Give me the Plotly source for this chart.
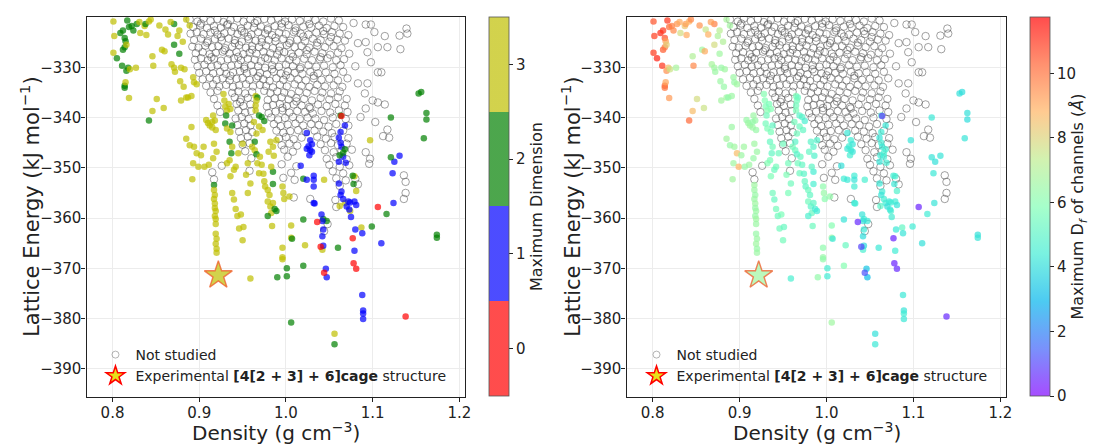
import plotly.graph_objects as go

# ---------------- data ----------------
# grey "Not studied" structures
gray_x = [
    0.889, 0.898, 0.905, 0.913, 0.921, 0.928, 0.936, 0.944, 0.951, 0.959, 0.967, 0.975, 0.983, 0.991, 0.999, 1.007, 1.016, 1.025, 1.034, 1.043, 1.052, 1.061, 1.078, 1.098,
    0.893, 0.901, 0.909, 0.917, 0.925, 0.932, 0.940, 0.948, 0.956, 0.963, 0.971, 0.979, 0.987, 0.995, 1.003, 1.011, 1.020, 1.029, 1.038, 1.047, 1.056, 1.066, 1.092, 1.139,
    0.890, 0.897, 0.905, 0.913, 0.921, 0.929, 0.937, 0.944, 0.952, 0.960, 0.968, 0.976, 0.984, 0.992, 1.000, 1.009, 1.017, 1.026, 1.035, 1.044, 1.053, 1.062, 1.072, 1.102, 1.114, 1.131, 1.140,
    0.894, 0.902, 0.910, 0.918, 0.926, 0.934, 0.941, 0.949, 0.957, 0.965, 0.972, 0.980, 0.988, 0.997, 1.005, 1.013, 1.022, 1.031, 1.040, 1.050, 1.059, 1.068, 1.083, 1.092,
    0.892, 0.899, 0.907, 0.915, 0.922, 0.930, 0.938, 0.946, 0.954, 0.961, 0.969, 0.977, 0.985, 0.993, 1.001, 1.010, 1.018, 1.027, 1.036, 1.045, 1.055, 1.064, 1.106, 1.117, 1.132,
    0.896, 0.904, 0.912, 0.919, 0.927, 0.935, 0.943, 0.951, 0.958, 0.966, 0.974, 0.982, 0.990, 0.998, 1.006, 1.015, 1.024, 1.033, 1.042, 1.051, 1.060, 1.073, 1.094,
    0.895, 0.902, 0.910, 0.917, 0.925, 0.933, 0.940, 0.948, 0.956, 0.964, 0.971, 0.979, 0.987, 0.995, 1.004, 1.012, 1.021, 1.030, 1.039, 1.048, 1.058, 1.067, 1.098,
    0.898, 0.906, 0.914, 0.921, 0.929, 0.937, 0.945, 0.952, 0.960, 0.968, 0.976, 0.984, 0.992, 1.000, 1.008, 1.017, 1.026, 1.035, 1.044, 1.054, 1.063, 1.080,
    0.900, 0.908, 0.916, 0.924, 0.931, 0.939, 0.947, 0.955, 0.962, 0.970, 0.978, 0.986, 0.994, 1.002, 1.010, 1.019, 1.028, 1.037, 1.046, 1.056, 1.066, 1.106, 1.110,
    0.904, 0.912, 0.920, 0.927, 0.935, 0.943, 0.950, 0.958, 0.966, 0.974, 0.981, 0.989, 0.997, 1.005, 1.014, 1.023, 1.032, 1.041, 1.050, 1.060, 1.071,
    0.908, 0.916, 0.923, 0.931, 0.939, 0.946, 0.954, 0.962, 0.970, 0.977, 0.985, 0.993, 1.001, 1.010, 1.018, 1.027, 1.036, 1.045, 1.055, 1.065, 1.083, 1.094,
    0.913, 0.921, 0.938, 0.945, 0.953, 0.961, 0.975, 0.982, 0.990, 0.998, 1.006, 1.015, 1.024, 1.033, 1.042, 1.052, 1.062, 1.091,
    0.917, 0.941, 0.948, 0.956, 0.979, 0.987, 0.995, 1.003, 1.012, 1.021, 1.030, 1.040, 1.050, 1.060, 1.070, 1.100, 1.106,
    0.921, 0.943, 0.951, 0.959, 0.978, 0.985, 0.993, 1.001, 1.009, 1.018, 1.027, 1.037, 1.047, 1.057, 1.068, 1.114,
    0.924, 0.945, 0.953, 0.960, 0.980, 0.988, 0.996, 1.004, 1.013, 1.022, 1.031, 1.041, 1.051, 1.061, 1.071, 1.092,
    0.942, 0.949, 0.957, 0.983, 0.991, 0.999, 1.008, 1.016, 1.025, 1.034, 1.044, 1.054, 1.069, 1.086,
    0.944, 0.952, 0.959, 0.986, 0.994, 1.002, 1.011, 1.020, 1.029, 1.038, 1.049, 1.058, 1.072, 1.103,
    0.946, 0.954, 0.961, 0.989, 0.997, 1.005, 1.014, 1.023, 1.033, 1.043, 1.053, 1.066, 1.117,
    0.948, 0.956, 0.992, 1.000, 1.009, 1.018, 1.036, 1.046, 1.056, 1.072, 1.112, 1.119,
    0.950, 0.958, 0.995, 1.004, 1.013, 1.040, 1.052, 1.060, 1.070,
    0.953, 0.998, 1.008, 1.045, 1.055, 1.064, 1.076, 1.097,
    0.960, 1.002, 1.047, 1.058, 1.070, 1.096, 1.092,
    0.926, 0.995, 1.012, 1.050, 1.062, 1.073,
    0.915, 0.958, 1.006, 1.054, 1.066, 1.136,
    0.917, 0.997, 1.010, 1.058, 1.069, 1.080, 1.138,
    1.062, 1.083, 1.009, 1.028, 1.057, 1.138, 1.136, 1.058, 1.048, 1.044,
    0.902, 0.918, 0.933, 0.949, 0.964, 0.979, 0.995, 1.011, 1.027, 1.043, 0.909, 0.925, 0.941, 0.956, 0.972, 0.988, 1.004, 1.020, 1.036, 1.052,
    0.914, 0.929, 0.945, 0.961, 0.976, 0.992, 1.008, 1.024, 1.040, 0.936, 0.952, 0.968, 0.984, 1.000, 1.016, 1.032, 0.947, 0.996, 1.012, 1.028,
]
gray_y = [
    -320.5, -320.9, -320.3, -320.8, -320.4, -321.0, -320.6, -320.3, -320.9, -320.5, -320.8, -320.4, -320.7, -320.3, -320.9, -320.5, -320.8, -320.4, -320.6, -320.9, -320.3, -320.7, -321.2, -321.5,
    -322.0, -321.7, -322.2, -321.8, -322.1, -321.6, -322.0, -322.3, -321.7, -322.1, -321.9, -322.3, -321.8, -322.0, -321.6, -322.2, -321.9, -322.1, -321.7, -322.2, -321.8, -322.0, -321.5, -322.3,
    -323.3, -323.0, -323.4, -323.1, -323.5, -323.2, -322.9, -323.4, -323.1, -323.5, -323.0, -323.3, -323.6, -323.1, -323.4, -323.0, -323.3, -323.5, -323.1, -323.4, -323.0, -323.3, -323.6, -323.0, -323.8, -323.7, -323.3,
    -324.6, -324.3, -324.8, -324.4, -324.7, -324.3, -324.6, -324.9, -324.4, -324.7, -324.3, -324.6, -324.8, -324.4, -324.7, -324.5, -324.8, -324.3, -324.6, -324.9, -324.5, -324.7, -325.2, -325.0,
    -325.9, -326.1, -325.7, -326.0, -325.8, -326.2, -325.9, -325.6, -326.1, -325.8, -326.0, -325.7, -326.2, -325.9, -325.6, -326.0, -325.8, -326.1, -325.7, -326.0, -325.8, -326.2, -326.0, -326.0, -326.4,
    -327.2, -327.0, -327.4, -327.1, -326.9, -327.3, -327.0, -327.4, -327.1, -327.3, -326.9, -327.2, -327.5, -327.0, -327.3, -327.1, -327.4, -326.9, -327.2, -327.5, -327.1, -327.3, -327.0,
    -328.5, -328.2, -328.6, -328.3, -328.7, -328.4, -328.2, -328.6, -328.3, -328.5, -328.8, -328.3, -328.6, -328.2, -328.5, -328.7, -328.3, -328.6, -328.4, -328.2, -328.6, -328.4, -329.0,
    -329.8, -329.5, -329.9, -329.6, -330.0, -329.7, -329.5, -329.9, -329.6, -329.8, -330.1, -329.6, -329.9, -329.5, -329.8, -330.0, -329.6, -329.9, -329.7, -330.0, -329.6, -329.8,
    -331.1, -330.8, -331.2, -330.9, -331.3, -331.0, -330.8, -331.2, -330.9, -331.1, -331.4, -330.9, -331.2, -330.8, -331.1, -331.3, -330.9, -331.2, -331.0, -331.3, -330.9, -331.0, -331.0,
    -332.4, -332.1, -332.5, -332.2, -332.6, -332.3, -332.1, -332.5, -332.2, -332.4, -332.7, -332.2, -332.5, -332.1, -332.4, -332.6, -332.2, -332.5, -332.3, -332.6, -332.2,
    -333.7, -333.4, -333.8, -333.5, -333.9, -333.6, -333.4, -333.8, -333.5, -333.7, -334.0, -333.5, -333.8, -333.4, -333.7, -333.9, -333.5, -333.8, -333.6, -333.9, -333.2, -333.2,
    -335.0, -334.7, -335.1, -334.8, -335.2, -334.9, -334.7, -335.1, -334.8, -335.0, -335.3, -334.8, -335.1, -334.7, -335.0, -335.2, -334.8, -335.2,
    -336.3, -336.0, -336.4, -336.1, -336.5, -336.2, -336.0, -336.4, -336.1, -336.3, -336.6, -336.1, -336.4, -336.0, -336.3, -336.6, -337.0,
    -337.6, -337.3, -337.7, -337.4, -337.8, -337.5, -337.3, -337.7, -337.4, -337.6, -337.9, -337.4, -337.7, -337.3, -337.6, -337.4,
    -338.9, -338.6, -339.0, -338.7, -339.1, -338.8, -338.6, -339.0, -338.7, -338.9, -339.2, -338.7, -339.0, -338.6, -338.9, -338.2,
    -340.2, -339.9, -340.3, -340.0, -340.4, -340.1, -339.9, -340.3, -340.0, -340.2, -340.5, -340.0, -340.3, -339.9,
    -341.5, -341.2, -341.6, -341.3, -341.7, -341.4, -341.2, -341.6, -341.3, -341.5, -341.8, -341.3, -341.6, -340.9,
    -342.8, -342.5, -342.9, -342.6, -343.0, -342.7, -342.5, -342.9, -342.6, -342.8, -343.1, -342.6, -342.4,
    -344.1, -343.8, -344.2, -343.9, -344.3, -344.0, -343.8, -344.2, -343.9, -344.1, -343.7, -344.0,
    -345.4, -345.1, -345.5, -345.2, -345.6, -345.3, -345.1, -345.5, -345.2,
    -346.7, -346.4, -346.8, -346.5, -346.9, -346.6, -346.4, -348.2,
    -348.1, -347.8, -348.2, -347.9, -348.3, -349.2, -346.9,
    -349.6, -349.3, -349.7, -349.4, -349.8, -349.5,
    -350.9, -350.6, -351.0, -350.7, -351.1, -351.5,
    -352.3, -352.0, -352.4, -352.1, -352.5, -352.2, -352.8,
    -353.6, -353.3, -355.9, -356.2, -356.4, -355.0, -356.2, -357.8, -361.2, -362.6,
    -321.3, -322.7, -321.4, -322.8, -321.2, -322.6, -321.3, -322.7, -321.4, -322.8, -325.1, -324.0, -325.2, -323.9, -325.0, -324.1, -325.2, -323.9, -325.1, -324.0,
    -328.0, -326.6, -327.9, -326.5, -328.1, -326.7, -327.9, -326.6, -328.0, -331.7, -330.3, -331.8, -330.4, -331.6, -330.3, -331.7, -336.9, -338.1, -336.8, -338.2,
]

# studied structures: density, lattice energy, maximum dimension, maximum Df (Å)
studied_x = [
    0.801, 0.802, 0.809, 0.812, 0.814, 0.817, 0.819, 0.822, 0.824, 0.828, 0.831, 0.837, 0.838, 0.842, 0.844,
    0.801, 0.805, 0.812, 0.814, 0.815, 0.816, 0.811, 0.816, 0.818, 0.820, 0.827, 0.814, 0.814, 0.815, 0.819,
    0.842, 0.846, 0.851, 0.859, 0.847, 0.839, 0.832, 0.846,
    0.854, 0.861, 0.864, 0.857, 0.860, 0.868, 0.871, 0.872, 0.875, 0.877, 0.871, 0.871, 0.877, 0.881,
    0.879, 0.883, 0.878, 0.882, 0.885, 0.879, 0.887, 0.891, 0.894, 0.897, 0.893, 0.885, 0.889, 0.867,
    0.891, 0.885, 0.889, 0.894, 0.897, 0.902, 0.893, 0.899, 0.906, 0.911, 0.892, 0.908, 0.910, 0.912,
    0.915, 0.918, 0.916, 0.919, 0.917, 0.920, 0.916, 0.905, 0.915,
    0.917, 0.917, 0.918, 0.917, 0.918, 0.918, 0.919, 0.918, 0.919, 0.919, 0.919, 0.920, 0.919, 0.920, 0.920,
    0.928, 0.929, 0.930, 0.932, 0.934, 0.936, 0.931, 0.930, 0.932, 0.938, 0.936, 0.935, 0.938, 0.937,
    0.935, 0.932, 0.942, 0.940, 0.936, 0.938, 0.940, 0.942, 0.944, 0.948, 0.946, 0.951, 0.950, 0.945,
    0.950, 0.956, 0.954, 0.959, 0.956, 0.959,
    0.965, 0.967, 0.966, 0.965, 0.965, 0.969, 0.972, 0.975, 0.963, 0.969, 0.973, 0.966, 0.964, 0.961,
    0.964, 0.966, 0.970, 0.967, 0.972, 0.969, 0.974, 0.975, 0.976, 0.979, 0.981, 0.979, 0.982, 0.983,
    0.979, 0.985, 0.984, 0.985, 0.987, 0.989, 0.982, 0.985, 0.980, 0.986, 0.985, 0.983, 0.989,
    0.996, 0.997, 0.998, 1.004, 1.006, 1.006, 0.996, 0.996, 0.996, 1.007, 1.001, 1.001, 0.990, 1.020,
    1.006, 1.022, 1.042, 1.060, 1.020, 1.043, 1.047, 1.020, 1.044, 1.062, 1.056, 1.056, 1.097, 1.081,
    1.079, 1.087, 1.068, 1.074,
    1.024, 1.028, 1.030, 1.026, 1.024, 1.028, 1.030, 1.027, 1.017, 1.024, 1.032, 1.032, 1.032, 1.032,
    1.033, 1.041, 1.042, 1.043, 1.042, 1.043, 1.046, 1.047, 1.068, 1.063, 1.061, 1.063, 1.064, 1.066,
    1.061, 1.069, 1.061, 1.064, 1.063, 1.066, 1.072, 1.074, 1.070, 1.073, 1.079, 1.081, 1.075, 1.080,
    1.088, 1.079, 1.088, 1.089, 1.089, 1.089, 1.110, 1.124, 1.123, 1.125, 1.131,
    1.121, 1.153, 1.156, 1.162, 1.162, 1.159, 1.121, 1.116, 1.099, 1.174, 1.174, 1.068, 1.066, 1.062,
    1.063, 1.077, 1.078,
    1.064, 1.106, 1.036, 1.040, 1.077, 1.078, 1.081, 1.044, 1.138,
]
studied_y = [
    -320.9, -323.8, -323.2, -322.7, -324.2, -320.7, -322.0, -321.8, -322.7, -321.4, -321.0, -321.8, -321.4, -320.9, -320.5,
    -327.1, -328.2, -326.5, -326.0, -324.8, -325.5, -329.7, -330.7, -330.1, -330.4, -330.1, -333.7, -334.1, -333.0, -336.1,
    -340.6, -338.7, -336.3, -338.1, -329.7, -323.6, -323.2, -327.8,
    -321.7, -322.5, -323.5, -326.5, -326.8, -329.4, -330.1, -330.9, -323.8, -322.7, -321.4, -325.5, -327.3, -324.9,
    -330.1, -330.4, -332.8, -333.9, -336.0, -336.6, -336.0, -335.7, -333.0, -333.4, -332.0, -320.5, -321.7, -321.0,
    -341.9, -344.2, -345.5, -345.8, -347.1, -347.5, -349.1, -349.8, -349.8, -349.4, -352.3, -340.5, -341.1, -341.6,
    -340.9, -340.6, -339.6, -342.5, -345.2, -346.8, -348.1, -345.8, -342.0,
    -353.4, -354.4, -355.4, -356.2, -357.1, -358.0, -358.6, -359.6, -360.2, -361.2, -363.1, -364.1, -365.1, -366.1, -366.9,
    -335.3, -336.6, -337.8, -338.6, -337.3, -338.3, -339.6, -341.2, -342.2, -341.6, -342.9, -344.8, -345.8, -347.1,
    -348.5, -349.1, -349.8, -350.4, -351.7, -355.0, -356.3, -358.2, -359.6, -359.3, -362.1, -361.8, -364.4, -347.1,
    -345.2, -349.1, -351.4, -353.1, -355.0, -372.0,
    -335.7, -336.0, -336.6, -337.6, -338.6, -339.6, -339.9, -340.7, -340.9, -341.8, -342.5, -343.2, -344.8, -345.8,
    -346.5, -347.3, -347.8, -349.1, -349.4, -351.1, -351.2, -352.7, -353.7, -354.4, -355.4, -356.7, -357.7, -359.0,
    -359.6, -357.0, -361.6, -353.2, -358.2, -358.6, -344.8, -345.8, -346.8, -347.6, -350.8, -349.8, -344.5,
    -353.7, -355.0, -356.2, -355.7, -361.5, -363.9, -365.9, -367.8, -368.2, -364.1, -370.0, -371.6, -371.8, -369.5,
    -380.8, -365.4, -366.3, -365.9, -360.3, -360.2, -360.6, -352.2, -352.4, -357.6, -383.0, -385.1, -344.5, -354.6,
    -351.7, -361.9, -357.0, -358.6,
    -343.1, -344.5, -345.3, -345.7, -346.2, -346.5, -346.8, -347.5, -349.6, -352.4, -351.6, -352.4, -353.7, -357.0,
    -357.1, -359.3, -360.6, -362.3, -363.6, -365.5, -370.1, -371.8, -341.6, -342.9, -344.0, -345.0, -345.8, -347.8,
    -348.8, -349.0, -353.1, -354.7, -355.4, -356.2, -356.7, -356.9, -357.7, -358.3, -356.7, -357.4, -359.8, -362.3,
    -363.0, -366.5, -375.3, -378.4, -379.0, -380.1, -365.0, -357.0, -351.1, -348.8, -347.6,
    -347.9, -335.2, -334.9, -339.1, -340.4, -344.1, -340.0, -359.2, -361.7, -363.3, -363.9, -346.3, -347.0, -347.5,
    -339.6, -351.6, -353.2,
    -339.7, -357.8, -360.8, -365.7, -364.0, -369.0, -370.1, -370.9, -379.6,
]
max_dim = [
    3, 3, 2, 2, 2, 2, 2, 2, 2, 2, 3, 3, 2, 3, 3,
    3, 2, 2, 2, 2, 3, 2, 2, 2, 3, 3, 2, 2, 3, 3,
    2, 3, 3, 3, 3, 3, 3, 3,
    3, 3, 3, 3, 3, 3, 3, 3, 3, 3, 2, 2, 2, 3,
    3, 3, 3, 3, 3, 3, 3, 3, 3, 3, 3, 3, 3, 3,
    3, 3, 3, 3, 3, 3, 3, 3, 3, 3, 3, 3, 3, 3,
    3, 3, 3, 3, 3, 3, 3, 3, 3,
    2, 3, 3, 3, 3, 3, 3, 3, 3, 3, 3, 3, 3, 3, 3,
    3, 3, 3, 3, 3, 3, 2, 2, 3, 2, 3, 2, 3, 2,
    3, 3, 3, 3, 3, 3, 3, 3, 3, 3, 3, 3, 3, 3,
    3, 3, 3, 3, 3, 3,
    3, 2, 3, 3, 3, 2, 2, 2, 3, 3, 3, 3, 2, 3,
    3, 2, 3, 3, 3, 3, 3, 3, 3, 3, 3, 3, 3, 3,
    2, 3, 3, 2, 2, 2, 3, 3, 3, 3, 2, 3, 3,
    3, 3, 3, 3, 3, 3, 3, 3, 3, 2, 2, 2, 2, 2,
    2, 3, 3, 2, 2, 2, 2, 2, 3, 3, 3, 2, 3, 3,
    3, 3, 3, 3,
    1, 1, 1, 1, 1, 1, 1, 1, 1, 1, 1, 1, 1, 1,
    1, 1, 1, 1, 1, 1, 1, 1, 1, 1, 1, 1, 1, 1,
    1, 1, 1, 1, 1, 1, 1, 1, 1, 1, 1, 1, 1, 1,
    1, 1, 1, 1, 1, 1, 1, 1, 1, 1, 1,
    2, 2, 2, 2, 2, 2, 2, 2, 2, 2, 2, 2, 2, 2,
    2, 2, 2,
    0, 0, 0, 0, 0, 0, 0, 0, 0,
]
max_df = [
    10.5, 10.8, 11.2, 11.0, 10.6, 11.0, 10.2, 9.8, 9.6, 9.4, 9.0, 8.4, 9.2, 8.8, 9.6,
    10.9, 11.3, 10.4, 9.9, 9.2, 8.2, 11.0, 9.5, 8.7, 7.6, 6.8, 10.3, 10.0, 9.1, 9.3,
    10.2, 8.6, 7.8, 7.6, 9.6, 9.0, 7.8, 7.0,
    9.4, 7.5, 8.9, 6.6, 9.0, 6.8, 6.6, 6.5, 6.9, 7.2, 9.8, 7.8, 6.6, 7.0,
    6.4, 6.6, 6.5, 6.4, 6.6, 6.7, 6.3, 6.5, 6.4, 6.6, 6.5, 6.8, 6.7, 9.2,
    6.5, 6.7, 6.4, 6.6, 8.6, 6.5, 6.6, 8.8, 6.4, 6.5, 6.7, 6.4, 6.5, 6.6,
    6.3, 6.4, 6.5, 6.4, 6.6, 6.5, 6.4, 6.6, 6.5,
    6.6, 6.5, 6.4, 6.5, 6.6, 6.4, 6.5, 6.4, 6.6, 6.5, 6.4, 6.5, 6.6, 6.4, 6.5,
    6.0, 5.9, 5.8, 6.0, 5.7, 5.9, 5.5, 5.6, 5.8, 5.2, 5.7, 5.3, 5.6, 5.2,
    5.7, 5.9, 5.6, 5.4, 5.8, 5.5, 5.3, 5.6, 5.4, 5.7, 5.5, 5.3, 5.6, 5.4,
    5.5, 5.6, 5.8, 5.5, 5.7, 4.6,
    5.8, 5.3, 5.6, 5.5, 5.7, 5.0, 4.9, 4.6, 5.6, 5.4, 5.2, 5.5, 5.0, 5.6,
    5.4, 4.9, 5.3, 5.5, 5.2, 5.4, 5.0, 5.3, 5.1, 5.4, 5.2, 5.5, 5.0, 5.3,
    4.7, 5.1, 5.4, 4.6, 4.5, 4.4, 5.0, 4.9, 5.2, 4.8, 4.5, 5.1, 4.8,
    6.2, 6.4, 6.1, 6.3, 6.0, 6.5, 6.2, 6.4, 6.3, 4.3, 4.5, 4.4, 6.3, 6.0,
    6.6, 5.3, 4.6, 4.3, 4.2, 4.4, 4.3, 4.4, 4.6, 5.0, 4.1, 4.3, 4.2, 4.8,
    4.6, 5.2, 4.4, 4.7,
    4.3, 4.4, 4.2, 4.5, 4.3, 4.4, 4.2, 4.5, 4.1, 4.3, 4.4, 4.2, 4.5, 4.3,
    4.4, 4.2, 4.1, 4.3, 4.0, 3.9, 3.4, 3.2, 4.3, 4.4, 4.2, 4.5, 4.3, 4.4,
    4.2, 4.5, 4.3, 4.4, 4.2, 4.5, 4.3, 4.4, 4.1, 4.3, 4.4, 4.2, 4.5, 4.3,
    4.2, 4.4, 4.3, 4.2, 4.4, 4.3, 4.1, 4.2, 4.3, 4.1, 4.2,
    4.2, 4.1, 4.0, 4.1, 4.0, 4.2, 4.3, 4.4, 4.4, 4.1, 4.2, 4.5, 4.6, 4.4,
    5.0, 4.5, 4.3,
    0.9, 0.5, 0.6, 1.0, 0.5, 0.5, 0.6, 1.2, 0.6,
]

# experimental cage structure
exp_x = [0.922]
exp_y = [-371.4]
exp_dim = [3]
exp_df = [6.6]

dim_ticks = [0, 1, 2, 3]
df_ticks = [0, 2, 4, 6, 8, 10]
x_ticks = [0.8, 0.9, 1.0, 1.1, 1.2]
y_ticks = [-390, -380, -370, -360, -350, -340, -330]

# ---------------- styling ----------------
W, H = 1099, 444
FONT = "DejaVu Sans"
INK = "#222"

RED = "rgba(255,0,0,0.7)"
BLUE = "rgba(0,0,255,0.7)"
GREEN = "rgba(0,128,0,0.7)"
YELLOW = "rgba(191,191,0,0.7)"
dim_scale = [[0.0, RED], [0.25, RED], [0.25, BLUE], [0.5, BLUE],
             [0.5, GREEN], [0.75, GREEN], [0.75, YELLOW], [1.0, YELLOW]]
rainbow = [[0.0, "rgba(128,0,255,0.7)"], [0.125, "rgba(64,98,250,0.7)"],
           [0.25, "rgba(0,180,236,0.7)"], [0.375, "rgba(64,236,212,0.7)"],
           [0.5, "rgba(128,255,180,0.7)"], [0.625, "rgba(191,236,142,0.7)"],
           [0.75, "rgba(255,180,98,0.7)"], [0.875, "rgba(255,98,50,0.7)"],
           [1.0, "rgba(255,0,0,0.7)"]]
DF_MAX = 11.75


def px_x(p):
    return p / W


def px_y(p):
    return 1 - p / H


fig = go.Figure()

panels = [
    dict(xa="x", ya="y", legend="legend", colors=max_dim, scale=dim_scale,
         cmin=-0.5, cmax=3.5, star=exp_dim, cbx=492, ticks=dim_ticks,
         cbtitle="Maximum Dimension", ytx=30, xtx=(87 + 468) / 2),
    dict(xa="x2", ya="y2", legend="legend2", colors=max_df, scale=rainbow,
         cmin=0, cmax=DF_MAX, star=exp_df, cbx=1036, ticks=df_ticks,
         cbtitle="Maximum D<sub><i>f</i></sub> of channels (<i>Å</i>)", ytx=574,
         xtx=(630 + 1012) / 2),
]

for p in panels:
    fig.add_trace(go.Scatter(
        x=gray_x, y=gray_y, xaxis=p["xa"], yaxis=p["ya"], mode="markers",
        marker=dict(symbol="circle-open", size=7.5, color="rgba(80,80,80,0.6)",
                    line=dict(width=0.9)),
        showlegend=False, hoverinfo="skip"))
    fig.add_trace(go.Scatter(
        x=studied_x, y=studied_y, xaxis=p["xa"], yaxis=p["ya"], mode="markers",
        marker=dict(size=6.5, color=p["colors"], colorscale=p["scale"],
                    cmin=p["cmin"], cmax=p["cmax"], line=dict(width=0),
                    showscale=True,
                    colorbar=dict(
                        x=px_x(p["cbx"]), xanchor="left", xpad=0,
                        y=px_y(17), yanchor="top", ypad=0,
                        len=379 / H, lenmode="fraction",
                        thickness=20, thicknessmode="pixels",
                        tickvals=p["ticks"], ticks="outside", ticklen=4,
                        tickcolor=INK, tickfont=dict(size=15, color=INK, family=FONT),
                        outlinewidth=0.8, outlinecolor="#555",
                        title=dict(text=p["cbtitle"], side="right",
                                   font=dict(size=16, color=INK, family=FONT)))),
        showlegend=False))
    fig.add_trace(go.Scatter(
        x=exp_x, y=exp_y, xaxis=p["xa"], yaxis=p["ya"], mode="markers",
        marker=dict(symbol="star", size=21, color=p["star"], colorscale=p["scale"],
                    cmin=p["cmin"], cmax=p["cmax"], showscale=False,
                    line=dict(width=1.4, color="rgba(240,90,40,0.75)")),
        showlegend=False))
    # legend entries
    fig.add_trace(go.Scatter(
        x=[None], y=[None], xaxis=p["xa"], yaxis=p["ya"], mode="markers",
        name="Not studied", legend=p["legend"],
        marker=dict(symbol="circle-open", size=7, color="rgba(90,90,90,0.5)",
                    line=dict(width=0.9))))
    fig.add_trace(go.Scatter(
        x=[None], y=[None], xaxis=p["xa"], yaxis=p["ya"], mode="markers",
        name="Experimental <b>[4[2 + 3] + 6]cage</b> structure", legend=p["legend"],
        marker=dict(symbol="star", size=14, color="rgba(230,220,0,0.9)",
                    line=dict(width=1.5, color="red"))))
    # axis titles
    fig.add_annotation(
        x=px_x(p["ytx"]), y=px_y(207), xref="paper", yref="paper",
        xanchor="center", yanchor="middle", textangle=-90, showarrow=False,
        text="Lattice Energy (kJ mol<sup>−1</sup>)",
        font=dict(size=21, color=INK, family=FONT))
    fig.add_annotation(
        x=px_x(p["xtx"]), y=px_y(432), xref="paper", yref="paper",
        xanchor="center", yanchor="middle", showarrow=False,
        text="Density (g cm<sup>−3</sup>)",
        font=dict(size=20, color=INK, family=FONT))

axis_common = dict(
    showline=True, mirror=True, linecolor=INK, linewidth=1.3,
    ticks="outside", ticklen=4, tickwidth=1, tickcolor=INK,
    showgrid=True, gridcolor="#ececec", gridwidth=0.8, zeroline=False,
    tickfont=dict(size=15, color=INK, family=FONT),
)
xr = [0.770, 1.207]
yr = [-395.6, -320.0]

fig.update_layout(
    width=W, height=H,
    margin=dict(l=0, r=0, t=0, b=0),
    paper_bgcolor="white", plot_bgcolor="white",
    font=dict(family=FONT, color=INK),
    xaxis=dict(domain=[px_x(87), px_x(468)], range=xr, tickvals=x_ticks, tickformat=".1f",
               anchor="y", **axis_common),
    yaxis=dict(domain=[px_y(397), px_y(17)], range=yr, tickvals=y_ticks,
               anchor="x", **axis_common),
    xaxis2=dict(domain=[px_x(630), px_x(1012)], range=xr, tickvals=x_ticks, tickformat=".1f",
                anchor="y2", **axis_common),
    yaxis2=dict(domain=[px_y(397), px_y(17)], range=yr, tickvals=y_ticks,
                anchor="x2", **axis_common),
    legend=dict(x=px_x(96), y=px_y(339), xanchor="left", yanchor="top",
                bgcolor="rgba(0,0,0,0)", font=dict(size=14, color=INK, family=FONT),
                traceorder="normal"),
    legend2=dict(x=px_x(640), y=px_y(339), xanchor="left", yanchor="top",
                 bgcolor="rgba(0,0,0,0)", font=dict(size=14, color=INK, family=FONT),
                 traceorder="normal"),
)

# pull the tick labels a little closer to the axes (matplotlib-like spacing)
try:
    fig.update_layout(yaxis_ticklabelstandoff=-3, yaxis2_ticklabelstandoff=-3,
                      xaxis_ticklabelstandoff=-2, xaxis2_ticklabelstandoff=-2)
except Exception:
    pass

fig.write_html("out.html")
